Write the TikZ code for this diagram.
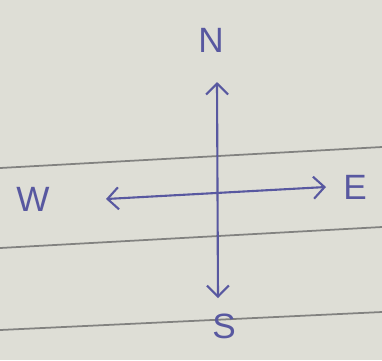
\documentclass[tikz,border=0pt]{standalone}
\usepackage{fontspec}
\setmainfont{Liberation Sans}
\usepackage{tikz}
\usetikzlibrary{arrows.meta}
\usepackage{xcolor}
\definecolor{paper}{RGB}{222,222,214}
\definecolor{rule}{RGB}{130,130,128}
\definecolor{ink}{RGB}{88,88,160}

\begin{document}
\begin{tikzpicture}[x=0.02cm, y=-0.02cm,
    pen/.style={line width=1.2pt, ink, line cap=round,
        >={Straight Barb[length=2.2mm, width=4.4mm, line width=1.2pt]}},
    dir/.style={ink, font=\fontsize{20}{24}\selectfont}]
    % Paper
    \fill[paper] (0,0) rectangle (382,360);
    \useasboundingbox (0,0) rectangle (382,360);
    
    % Ruled lines
    \draw[rule, line width=1pt] (0,168) -- (382,147);
    \draw[rule, line width=1pt] (0,248) -- (382,227);
    \draw[rule, line width=1pt] (0,330) -- (382,312);
    
    % Arrow ends
    \coordinate (ntip) at (217,82);
    \coordinate (stip) at (218,298);
    \coordinate (wtip) at (106,199);
    \coordinate (etip) at (326,187);
    
    % Labels
    \node[dir] (N) at (211,40) {N};
    \node[dir] (S) at (224,326) {S};
    \node[dir] (W) at (33,199) {W};
    \node[dir] (E) at (355,187) {E};
    
    % Arrows
    \draw[pen, <->] (stip) -- (ntip);
    \draw[pen, <->] (wtip) -- (etip);
\end{tikzpicture}
\end{document}
